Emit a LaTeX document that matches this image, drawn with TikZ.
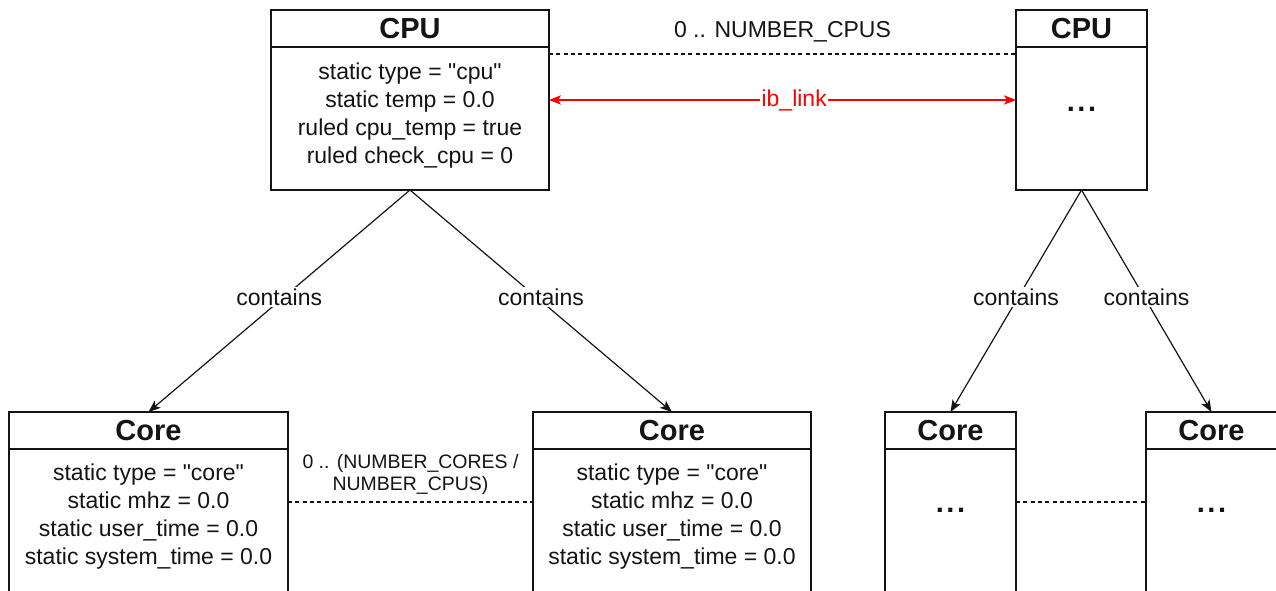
\documentclass[tikz,border=0pt]{standalone}
\usepackage{fontspec}
\setsansfont{Liberation Sans}[Ligatures=TeXOff]
\usetikzlibrary{arrows.meta,positioning}
\definecolor{Ink}{HTML}{141414}
\definecolor{Link}{HTML}{FF0000}
\newcommand{\boxtxt}{\sffamily\fontsize{17.25}{21}\selectfont}
\newcommand{\boxhead}{\sffamily\bfseries\fontsize{21.75}{26}\selectfont}
\newcommand{\multtxt}{\sffamily\fontsize{14.6}{16.5}\selectfont}

\begin{document}
\begin{tikzpicture}[x=0.75pt,y=-0.75pt,
  classhead/.style={draw=Ink,line width=1.1pt,inner sep=0pt,outer sep=0pt,minimum height=27.75pt,font=\boxhead,text=Ink},
  classbody/.style={draw=Ink,line width=1.1pt,inner sep=0pt,outer sep=0pt,minimum height=107.25pt,anchor=north},
  attrs/.style={align=center,font=\boxtxt,text=Ink},
  dots/.style={font=\boxhead,text=Ink},
  contains/.style={-{Stealth[length=9pt,width=7pt,inset=2.2pt]},Ink,line width=0.9pt},
  lbl/.style={midway,yshift=3pt,fill=white,inner sep=1.5pt,font=\boxtxt,text=Ink},
  mult/.style={Ink,line width=0.8pt,dash pattern=on 3pt off 2.5pt}]
\useasboundingbox (0,0) rectangle (1276,590);
\clip (0,0) rectangle (1276,590);
% CPU classes
\node[classhead,minimum width=208.5pt] (cpuAhead) at (410,28.5) {CPU};
\node[classbody,minimum width=208.5pt] (cpuAbody) at (cpuAhead.south) {};
\node[attrs] (cpuAattr) at (410,116) {static type = "cpu"\\static temp = 0.0\\ruled cpu\_temp = true\\ruled check\_cpu = 0};
\node[classhead,minimum width=98.25pt] (cpuBhead) at (1081.5,28.5) {CPU};
\node[classbody,minimum width=98.25pt] (cpuBbody) at (cpuBhead.south) {};
\node[dots] (cpuBdots) at (1081.5,109) {.\kern2pt.\kern2pt.};
% Core classes
\node[classhead,minimum width=209.25pt] (coreAhead) at (148.5,430.5) {Core};
\node[classbody,minimum width=209.25pt] (coreAbody) at (coreAhead.south) {};
\node[attrs] (coreAattr) at (148.5,517) {static type = "core"\\static mhz = 0.0\\static user\_time = 0.0\\static system\_time = 0.0};
\node[classhead,minimum width=208.5pt] (coreBhead) at (672,430.5) {Core};
\node[classbody,minimum width=208.5pt] (coreBbody) at (coreBhead.south) {};
\node[attrs] (coreBattr) at (672,517) {static type = "core"\\static mhz = 0.0\\static user\_time = 0.0\\static system\_time = 0.0};
\node[classhead,minimum width=98.25pt] (coreChead) at (950.5,430.5) {Core};
\node[classbody,minimum width=98.25pt] (coreCbody) at (coreChead.south) {};
\node[dots] (coreCdots) at (950.5,510) {.\kern2pt.\kern2pt.};
\node[classhead,minimum width=98.25pt] (coreDhead) at (1211.5,430.5) {Core};
\node[classbody,minimum width=98.25pt] (coreDbody) at (coreDhead.south) {};
\node[dots] (coreDdots) at (1211.5,510) {.\kern2pt.\kern2pt.};
% multiplicities
\draw[mult] ([yshift=-5.25pt]cpuAbody.north east) -- node[midway,yshift=16.5pt,font=\boxtxt,text=Ink] (cpuMult) {0 .. NUMBER\_CPUS} ([yshift=-5.25pt]cpuBbody.north west);
\draw[mult] ([yshift=13.9pt]coreAbody.east) -- node[midway,yshift=20.5pt,align=center,font=\multtxt,text=Ink] (coreMult) {0 .. (NUMBER\_CORES /\\NUMBER\_CPUS)} ([yshift=13.9pt]coreBbody.west);
\draw[mult] ([yshift=13.9pt]coreCbody.east) -- ([yshift=13.9pt]coreDbody.west);
% ib link
\draw[{Stealth[length=9pt,width=7pt,inset=2.2pt]}-{Stealth[length=9pt,width=7pt,inset=2.2pt]},Link,line width=0.9pt] ([yshift=13.9pt]cpuAbody.east) -- node[pos=0.525,fill=white,inner sep=1pt,font=\boxtxt,text=Link] (ibLink) {ib\_link} ([yshift=13.9pt]cpuBbody.west);
% containment
\draw[contains] (cpuAbody.south) -- node[lbl] (containsA) {contains} (coreAhead.north);
\draw[contains] (cpuAbody.south) -- node[lbl] (containsB) {contains} (coreBhead.north);
\draw[contains] (cpuBbody.south) -- node[lbl] (containsC) {contains} (coreChead.north);
\draw[contains] (cpuBbody.south) -- node[lbl] (containsD) {contains} (coreDhead.north);
\end{tikzpicture}
\end{document}
